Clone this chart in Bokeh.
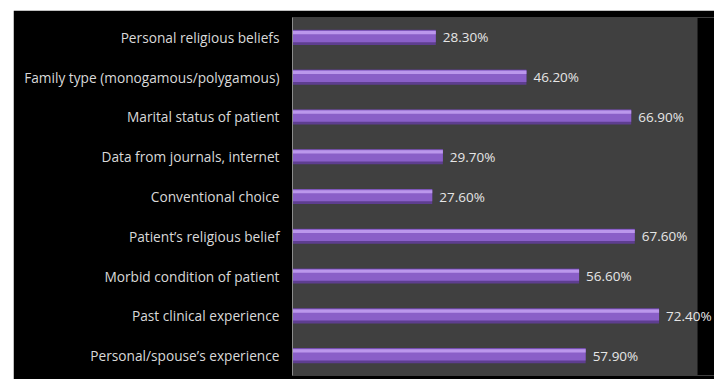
from bokeh.plotting import figure
from bokeh.models import ColumnDataSource, FactorRange, LabelSet, Spacer, BoxAnnotation
from bokeh.layouts import column, row
from bokeh.transform import dodge
from bokeh.embed import file_html
from bokeh.resources import INLINE
from bokeh.core.properties import value

categories = [
    "Personal religious beliefs",
    "Family type (monogamous/polygamous)",
    "Marital status of patient",
    "Data from journals, internet",
    "Conventional choice",
    "Patient\u2019s religious belief",
    "Morbid condition of patient",
    "Past clinical experience",
    "Personal/spouse\u2019s experience",
]
values = [28.3, 46.2, 66.9, 29.7, 27.6, 67.6, 56.6, 72.4, 57.9]
labels = ["%.2f%%" % v for v in values]
axis_max = 80

src = ColumnDataSource(dict(cat=categories, val=values, lab=labels))

p = figure(
    width=701, height=369,
    y_range=FactorRange(factors=list(reversed(categories))),
    x_range=(0, 83.35),
    output_backend="svg", toolbar_location=None,
    min_border_left=279, min_border_right=0, min_border_top=7, min_border_bottom=4,
)
p.background_fill_color = "#000000"
p.border_fill_color = "#000000"
p.outline_line_color = None
p.xgrid.grid_line_color = None
p.ygrid.grid_line_color = None
p.xaxis.visible = False
p.yaxis.axis_line_color = "#8c8c8c"
p.yaxis.major_tick_line_color = None
p.yaxis.minor_tick_line_color = None
p.yaxis.major_label_text_color = "#d9d9d9"
p.yaxis.major_label_text_font = "Open Sans"
p.yaxis.major_label_text_font_size = "13.7px"
p.yaxis.major_label_standoff = 7

# plot area background
p.add_layout(BoxAnnotation(left=0, right=axis_max, fill_color="#404040",
                           fill_alpha=1.0, line_color=None, level="underlay"))

# bar body: dark base, main fill, top highlight
p.hbar(y="cat", right="val", left=0, height=0.38, source=src,
       fill_color="#5e3e90", line_color=None)
p.hbar(y=dodge("cat", 0.03, range=p.y_range), right="val", left=0, height=0.30,
       source=src, fill_color="#8a5fc8", line_color=None)
p.hbar(y=dodge("cat", 0.12, range=p.y_range), right="val", left=0, height=0.08,
       source=src, fill_color="#bb97ec", line_color=None)

lbl = LabelSet(x="val", y="cat", text="lab", source=src, x_offset=7,
               text_font=value("Open Sans"), text_font_size="13.5px",
               text_color="#e6e6e6", text_baseline="middle", text_align="left")
p.add_layout(lbl)

layout = column(Spacer(height=10), row(Spacer(width=13), p))
open("out.html", "w").write(file_html(layout, INLINE))
